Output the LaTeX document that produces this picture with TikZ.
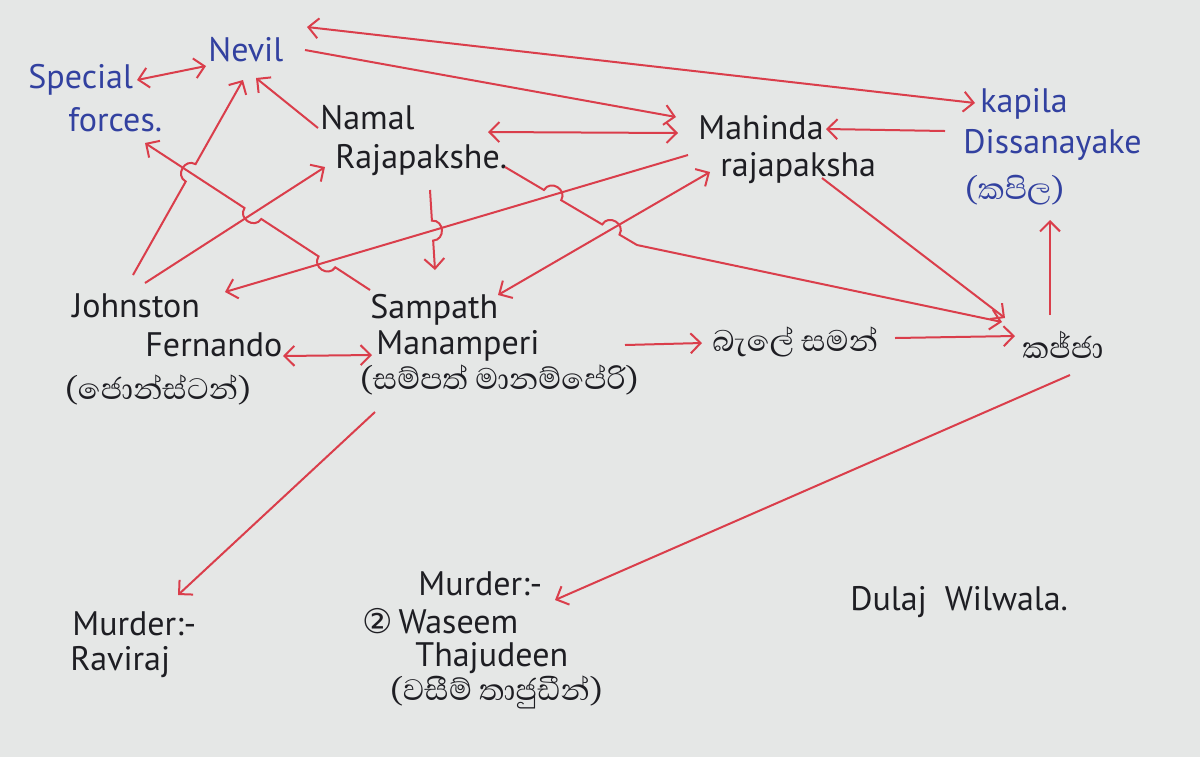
\documentclass[tikz,border=0pt]{standalone}
\usepackage{fontspec}
\setmainfont{PT Sans}
\newfontfamily\sinhalafont[Script=Sinhala]{Abhaya Libre}
\newfontfamily\dejavu{DejaVu Sans}
\usetikzlibrary{arrows.meta,calc}
\definecolor{paper}{RGB}{229,231,230}
\definecolor{ink}{RGB}{30,30,35}
\definecolor{bink}{RGB}{50,65,160}
\definecolor{redink}{RGB}{218,62,75}
\begin{document}
\begin{tikzpicture}[x=0.5pt,y=-0.5pt,
  lbl/.style={anchor=west,inner sep=0pt,font=\fontsize{17}{20}\selectfont,text=ink},
  blbl/.style={lbl,text=bink},
  slbl/.style={lbl,font=\sinhalafont\fontsize{19}{22}\selectfont},
  bslbl/.style={slbl,text=bink},
  arr/.style={draw=redink,line width=1pt,-{Straight Barb[length=5pt,width=10pt]}},
  darr/.style={arr,{Straight Barb[length=5pt,width=10pt]}-{Straight Barb[length=5pt,width=10pt]}},
  hop/.style={bend left=90,looseness=1.6}
]
\fill[paper] (0,0) rectangle (1200,757);
\useasboundingbox (0,0) rectangle (1200,757);

% nodes
\node[blbl] (sp1) at (28,80) {Special};
\node[blbl] (sp2) at (68,120) {forces.};
\node[blbl] (nevil) at (208,50) {Nevil};
\node[lbl] (namal1) at (320,118) {Namal};
\node[lbl] (namal2) at (335,160) {Rajapakshe.};
\node[lbl] (mah1) at (698,128) {Mahinda};
\node[lbl] (mah2) at (720,168) {rajapaksha};
\node[blbl] (kap1) at (980,104) {kapila};
\node[blbl] (kap2) at (963,145) {Dissanayake};
\node[bslbl] (kap3) at (965,190) {(කපිල)};
\node[lbl] (joh1) at (72,306) {Johnston};
\node[lbl] (joh2) at (145,345) {Fernando};
\node[slbl] (joh3) at (65,390) {(ජොන්ස්ටන්)};
\node[lbl] (sam1) at (370,310) {Sampath};
\node[lbl] (sam2) at (376,346) {Manamperi};
\node[slbl] (sam3) at (360,380) {(සම්පත් මානම්පේරි)};
\node[slbl] (bale) at (712,342) {බැලේ සමන්};
\node[slbl] (kajja) at (1022,345) {කජ්ජා};
\node[lbl] (mr1) at (72,624) {Murder:-};
\node[lbl] (mr2) at (70,662) {Raviraj};
\node[lbl] (mt1) at (418,584) {Murder:-};
\node[lbl] (mt2) at (362,621) {{\dejavu ②}\,Waseem};
\node[lbl] (mt3) at (415,658) {Thajudeen};
\node[slbl] (mt4) at (390,692) {(වසීම් තාජුඩීන්)};
\node[lbl] (dulaj) at (850,602) {Dulaj\hspace{9pt}Wilwala.};

% endpoints
\coordinate (jnA) at ($(joh1.west)+(61,-31)$);
\coordinate (jnB) at ($(nevil.west)+(35,30)$);
\coordinate (ssA) at ($(sam1.west)+(0,-20)$);
\coordinate (ssB) at ($(sp2.west)+(77,23)$);
\coordinate (jmA) at ($(joh1.west)+(73,-23)$);
\coordinate (jmB) at ($(namal2.west)+(-10,7)$);
\coordinate (mjA) at ($(mah1.west)+(-10,27)$);
\coordinate (mjB) at ($(joh1.west)+(153,-14)$);
\coordinate (nsA) at ($(namal2.west)+(95,30)$);
\coordinate (nsB) at ($(sam1.west)+(65,-40)$);
\coordinate (smA) at ($(sam1.west)+(128,-15)$);
\coordinate (smB) at ($(mah2.west)+(-10,4)$);
\coordinate (nkA) at ($(namal2.west)+(170,7)$);
\coordinate (nkM) at ($(namal2.west)+(302,85)$);
\coordinate (nkB) at ($(kajja.west)+(-20,-23)$);

\coordinate (x1) at (intersection of jnA--jnB and ssA--ssB);
\coordinate (x2) at (intersection of ssA--ssB and jmA--jmB);
\coordinate (x3) at (intersection of ssA--ssB and mjA--mjB);
\coordinate (x4) at (intersection of nsA--nsB and mjA--mjB);
\coordinate (x5) at (intersection of nkA--nkM and mjA--mjB);
\coordinate (x6) at (intersection of nkA--nkM and smA--smB);

% connectors
\draw[darr] ($(sp1.west)+(109,0)$) -- ($(nevil.west)+(-2,16)$);
\draw[darr] ($(nevil.west)+(99,-23)$) -- ($(kap1.west)+(-5,-1)$);
\draw[arr] ($(nevil.west)+(97,0)$) -- ($(mah1.west)+(-22,-11)$);
\draw[arr] ($(namal1.west)+(-2,10)$) -- ($(nevil.west)+(48,28)$);
\draw[darr] ($(namal2.west)+(153,-28)$) -- ($(mah1.west)+(-20,5)$);
\draw[arr] ($(kap2.west)+(-18,-14)$) -- ($(mah1.west)+(128,1)$);

\draw[arr] (jnA) -- ($(x1)!5pt!(jnA)$) to[hop] ($(x1)!5pt!(jnB)$) -- (jnB);
\draw[arr] (ssA) -- ($(x3)!5pt!(ssA)$) to[hop] ($(x3)!5pt!(ssB)$) -- ($(x2)!5pt!(ssA)$) to[hop] ($(x2)!5pt!(ssB)$) -- (ssB);
\draw[arr] (jmA) -- (jmB);
\draw[arr] (mjA) -- (mjB);
\draw[arr] (nsA) -- ($(x4)!5pt!(nsA)$) to[hop] ($(x4)!5pt!(nsB)$) -- (nsB);
\draw[darr] (smA) -- (smB);
\draw[arr] (nkA) -- ($(x5)!5pt!(nkA)$) to[hop] ($(x5)!5pt!(nkM)$) -- ($(x6)!5pt!(nkA)$) to[hop] ($(x6)!5pt!(nkM)$) -- (nkM) -- (nkB);

\draw[arr] ($(mah2.west)+(102,10)$) -- ($(kajja.west)+(-17,-27)$);
\draw[arr] ($(bale.west)+(183,-4)$) -- ($(kajja.west)+(-7,-9)$);
\draw[arr] ($(sam2.west)+(249,-1)$) -- ($(bale.west)+(-10,1)$);
\draw[darr] ($(joh2.west)+(138,11)$) -- ($(sam2.west)+(-4,9)$);
\draw[arr] ($(kajja.west)+(28,-30)$) -- ($(kap3.west)+(85,30)$);
\draw[arr] ($(sam3.west)+(15,32)$) -- ($(mr1.west)+(106,-29)$);
\draw[arr] ($(kajja.west)+(48,30)$) -- ($(mt1.west)+(137,16)$);
\end{tikzpicture}
\end{document}
